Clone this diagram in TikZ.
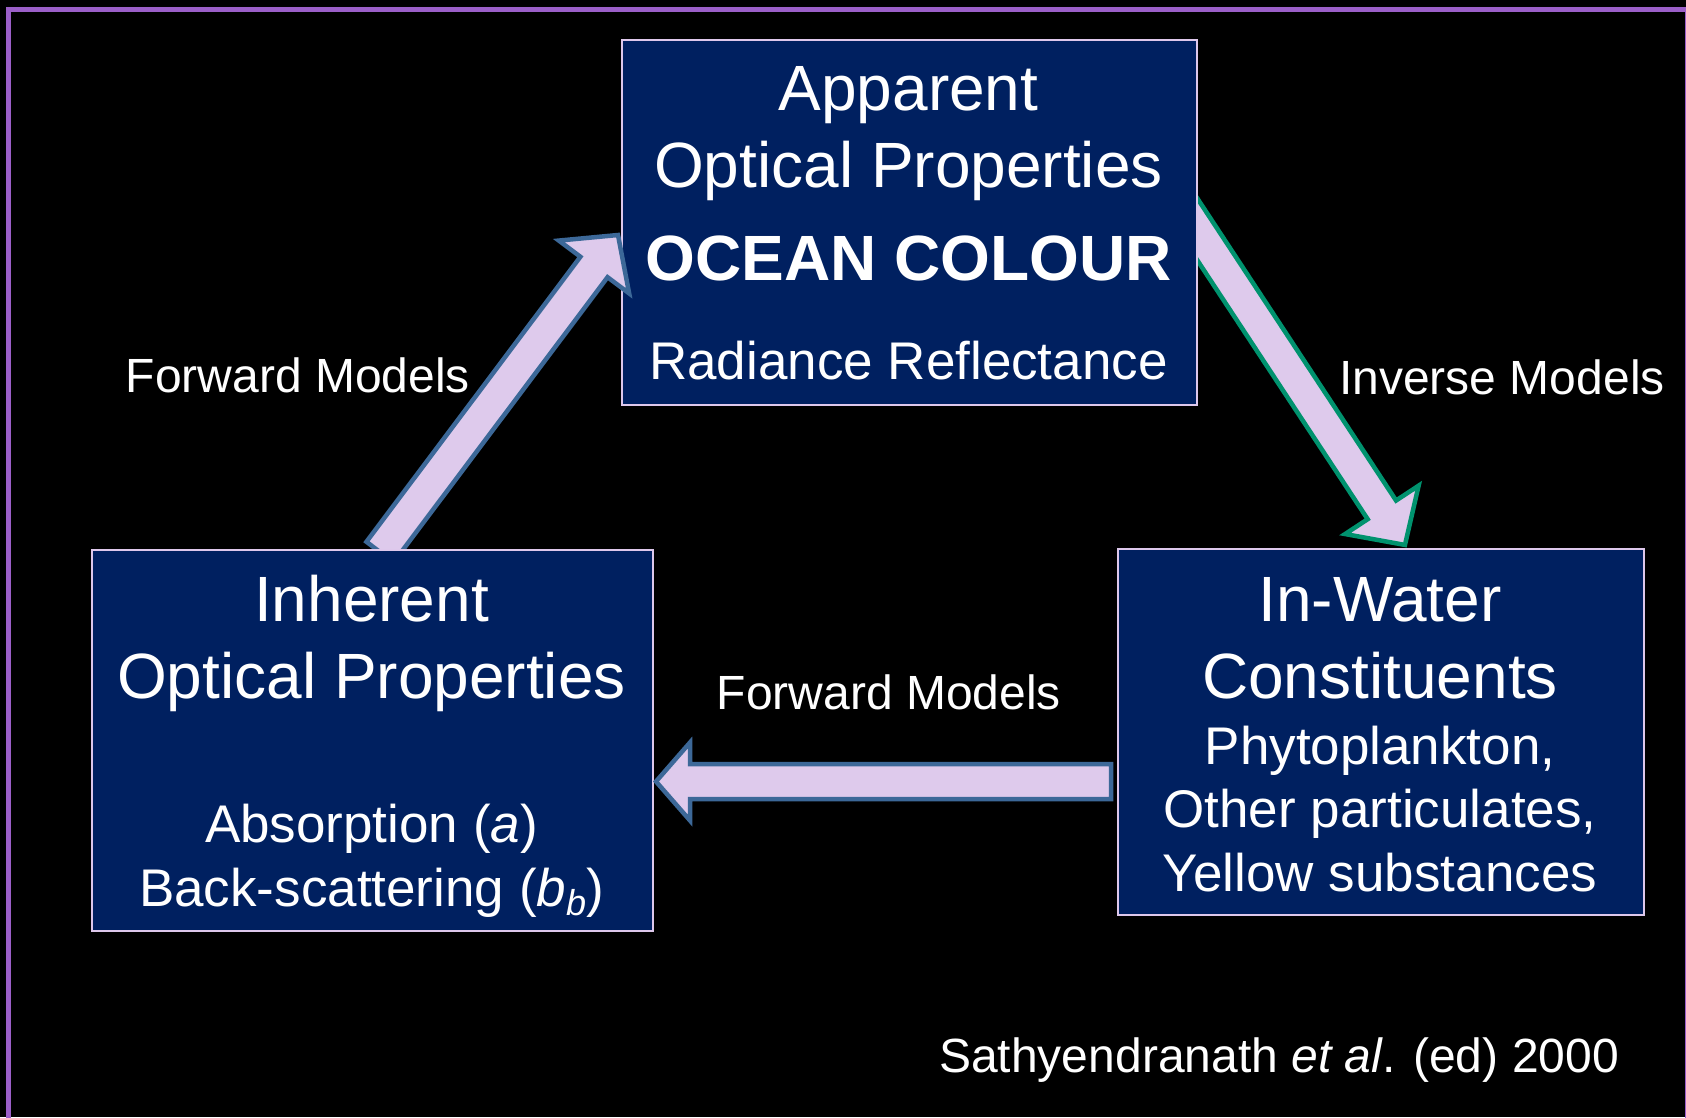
\documentclass[tikz,border=0pt]{standalone}
\usepackage{fontspec}
\setmainfont{Liberation Sans}
\usetikzlibrary{calc}
\definecolor{framepurple}{RGB}{155,95,200}
\definecolor{boxnavy}{RGB}{0,32,96}
\definecolor{arrowfill}{RGB}{222,202,236}
\definecolor{boxedge}{RGB}{222,200,236}
\definecolor{steelblue}{RGB}{60,104,152}
\definecolor{arrowgreen}{RGB}{0,146,110}
\tikzset{
  boxnode/.style={draw=boxedge, line width=2pt, fill=boxnavy, inner sep=0pt, anchor=north west},
  bigtext/.style={text=white, font=\fontsize{64}{77}\selectfont, anchor=base},
  midtext/.style={text=white, font=\fontsize{53}{64}\selectfont, anchor=base},
  lbltext/.style={text=white, font=\fontsize{48}{58}\selectfont, anchor=base},
  bluearrow/.style={fill=arrowfill, draw=steelblue, line width=4.5pt, line join=miter},
  greenarrow/.style={fill=arrowfill, draw=arrowgreen, line width=4.5pt, line join=miter},
}
% #1 style, #2 tail, #3 tip, #4 shaft half width, #5 head half width, #6 head length
\newcommand{\blockarrow}[6]{%
  \draw[#1] let \p1=($(#3)-(#2)$), \n1={atan2(\y1,\x1)}, \n2={veclen(\x1,\y1)} in
  [shift={(#2)}, rotate=\n1]
  (0,-#4) -- ({\n2-#6},-#4) -- ({\n2-#6},-#5) -- (\n2,0) -- ({\n2-#6},#5) -- ({\n2-#6},#4) -- (0,#4) -- cycle;}
\begin{document}
\begin{tikzpicture}[x=1pt, y=-1pt]
\useasboundingbox (0,0) rectangle (1686,1117);
\clip (0,0) rectangle (1686,1117);
\fill[black] (0,0) rectangle (1686,1117);
\draw[framepurple, line width=5pt] (8.5,1130) -- (8.5,9.5) -- (1700,9.5);
\draw[framepurple, line width=1.5pt] (1685.3,9.5) -- (1685.3,1130);

% arrow end points
\coordinate (d1) at (1180,203);
\coordinate (d2) at (1405,545);
\coordinate (u1) at (380,552);
\coordinate (u2) at (618,235);
\coordinate (h1) at (1111,781.5);
\coordinate (h2) at (656,781.5);

% inverse models arrow (under the top box)
\blockarrow{greenarrow}{d1}{d2}{17}{44}{42}

% top box
\node[boxnode, minimum width=575pt, minimum height=365pt] (aop) at (621,39) {};
\node[bigtext] (t1) at (908.5,110) {Apparent};
\node[bigtext] (t2) at (908.5,187) {Optical Properties};
\node[bigtext, font=\fontsize{64}{77}\selectfont\bfseries] (t3) at (908.5,280) {OCEAN COLOUR};
\node[midtext] (t4) at (908.5,379) {Radiance Reflectance};

% forward models arrow (over the top box)
\blockarrow{bluearrow}{u1}{u2}{17}{44}{40}

% left box
\node[boxnode, minimum width=561pt, minimum height=381pt] (iop) at (91,549) {};
\node[bigtext] (l1) at (371.5,621) {Inherent};
\node[bigtext] (l2) at (371.5,698) {Optical Properties};
\node[midtext] (l3) at (371.5,842) {Absorption (\textit{a})};
\node[midtext] (l4) at (371.5,906) {Back-scattering (\textit{b}\raisebox{-9pt}{\fontsize{36}{40}\selectfont\textit{b}})};

% right box
\node[boxnode, minimum width=526pt, minimum height=366pt] (iwc) at (1117,548) {};
\node[bigtext] (r1) at (1380,621) {In-Water};
\node[bigtext] (r2) at (1380,698) {Constituents};
\node[midtext] (r3) at (1380,764) {Phytoplankton,};
\node[midtext] (r4) at (1380,827) {Other particulates,};
\node[midtext] (r5) at (1380,891) {Yellow substances};

% horizontal forward models arrow
\blockarrow{bluearrow}{h1}{h2}{17.5}{39}{34}

% labels
\node[lbltext] (fm1) at (298,392) {Forward Models};
\node[lbltext] (im) at (1502,394) {Inverse Models};
\node[lbltext] (fm2) at (889,709) {Forward Models};
\node[lbltext] (cite) at (1279,1072) {Sathyendranath \textit{et al}. (ed) 2000};
\end{tikzpicture}
\end{document}
